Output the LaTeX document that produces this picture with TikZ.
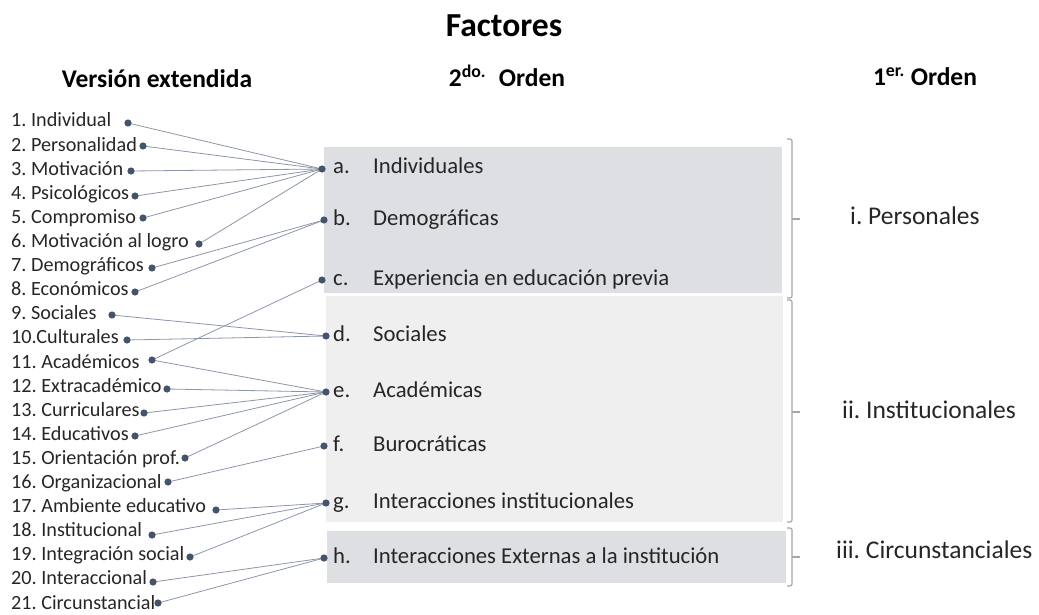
\documentclass[tikz,border=0pt]{standalone}
\usepackage{fontspec}
\setmainfont{Carlito}
\frenchspacing
\definecolor{dotc}{HTML}{44546A}
\definecolor{linec}{HTML}{8C96A8}
\definecolor{boxdark}{HTML}{DEDFE3}
\definecolor{boxlight}{HTML}{EFEFEF}
\definecolor{bracec}{HTML}{A6A6A6}
\definecolor{txtc}{HTML}{262626}
\tikzset{
  item/.style={anchor=base west, inner sep=0pt, text=txtc, font=\fontsize{20.2}{24}\selectfont},
  mid/.style={anchor=base west, inner sep=0pt, text=txtc, font=\fontsize{22.7}{27}\selectfont},
  first/.style={anchor=base west, inner sep=0pt, text=txtc, font=\fontsize{25.5}{30}\selectfont},
  head/.style={anchor=base, inner sep=0pt, font=\bfseries\fontsize{25.5}{30}\selectfont},
  link/.style={draw=linec, line width=0.8pt},
  brace/.style={draw=bracec, line width=1.2pt, rounded corners=2pt}
}
\begin{document}
\begin{tikzpicture}[x=1pt,y=-1pt]
  \useasboundingbox (0,0) rectangle (1039,615);

  \fill[boxdark] (324,147) rectangle (782,293);
  \fill[boxlight] (326,296) rectangle (783,522);
  \fill[boxdark] (327,531) rectangle (786,583);

  \node[anchor=base, inner sep=0pt, font=\bfseries\fontsize{33.6}{40}\selectfont] (titulo) at (504,37) {Factores};
  \node[head] (hext) at (157,88) {Versión extendida};
  \node[head] (hsec) at (507,87) {2\textsuperscript{do.}\hspace{0.5em}Orden};
  \node[head] (hpri) at (925,86) {1\textsuperscript{er.} Orden};

  \foreach \i/\t/\dx/\dy in {1/1. Individual/128/123, 2/2. Personalidad/143/146,
      3/3. Motivación/131/171, 4/4. Psicológicos/135/196, 5/5. Compromiso/143/218,
      6/6. Motivación al logro/199/244, 7/7. Demográficos/152/268, 8/8. Económicos/135/292,
      9/9. Sociales/112/315, 10/10.Culturales/127/340, 11/11. Académicos/152/360,
      12/12. Extracadémico/167/389, 13/13. Curriculares/144/413, 14/14. Educativos/135/436,
      15/15. Orientación prof./185/458, 16/16. Organizacional/168/482,
      17/17. Ambiente educativo/216/510, 18/18. Institucional/152/535,
      19/19. Integración social/190/557, 20/20. Interaccional/153/582,
      21/21. Circunstancial/158/603}{
    \node[item] (t\i) at (11,{127+24.1*(\i-1)}) {\t};
    \coordinate (l\i) at (\dx,\dy);
  }

  \foreach \n/\l/\t/\x/\y in {a/a./Individuales/322/169, b/b./Demográficas/324/220,
      c/c./Experiencia en educación previa/322/280, d/d./Sociales/326/336,
      e/e./Académicas/326/392, f/f./Burocráticas/324/446,
      g/g./Interacciones institucionales/326/503, h/h./Interacciones Externas a la institución/324/558}{
    \coordinate (m\n) at (\x,\y);
    \node[mid] (ml\n) at (333,\y+5) {\l};
    \node[mid] (mt\n) at (373,\y+5) {\t};
  }

  \foreach \a/\b in {1/a,2/a,3/a,4/a,5/a,6/a,7/b,8/b,11/c,9/d,10/d,11/e,12/e,13/e,14/e,15/e,
      16/f,17/g,18/g,19/g,20/h,21/h}
    \draw[link] (l\a) -- (m\b);

  \foreach \i in {1,...,21}
    \fill[dotc] (l\i) circle [radius=3.6];
  \foreach \n in {a,...,h}
    \fill[dotc] (m\n) circle [radius=3.6];

  \draw[brace] (787,139) -- (792,139) -- (792,298) -- (787,298);
  \draw[bracec, line width=1.2pt] (792,219) -- (800,219);
  \draw[brace] (787,300) -- (792,300) -- (792,522) -- (787,522);
  \draw[bracec, line width=1.2pt] (792,412) -- (800,412);
  \draw[brace] (787,528) -- (792,528) -- (792,586) -- (787,586);
  \draw[bracec, line width=1.2pt] (792,557) -- (800,557);

  \node[first] (pers) at (850,224) {i. Personales};
  \node[first] (inst) at (842,418) {ii. Institucionales};
  \node[first] (circ) at (836,558) {iii. Circunstanciales};
\end{tikzpicture}
\end{document}
